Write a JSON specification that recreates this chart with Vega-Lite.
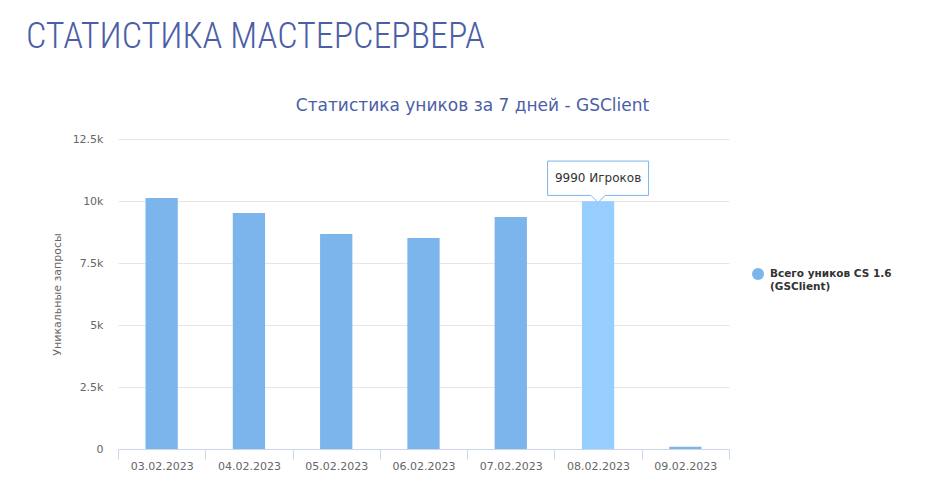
{
  "$schema": "https://vega.github.io/schema/vega-lite/v6.json",
  "width": 611,
  "height": 310,
  "autosize": {"type": "none"},
  "padding": {"left": 118, "top": 139, "right": 209, "bottom": 36},
  "background": "white",
  "title": {
    "text": "СТАТИСТИКА МАСТЕРСЕРВЕРА",
    "anchor": "start",
    "frame": "group",
    "dx": -92,
    "offset": 40,
    "font": "Roboto Condensed, Liberation Sans Narrow, Roboto",
    "fontSize": 36,
    "fontWeight": 300,
    "color": "#4b5ea6"
  },
  "data": {
    "values": [
      {"date": "03.02.2023", "value": 10120, "series": "Всего уников CS 1.6 (GSClient)"},
      {"date": "04.02.2023", "value": 9516, "series": "Всего уников CS 1.6 (GSClient)"},
      {"date": "05.02.2023", "value": 8670, "series": "Всего уников CS 1.6 (GSClient)"},
      {"date": "06.02.2023", "value": 8508, "series": "Всего уников CS 1.6 (GSClient)"},
      {"date": "07.02.2023", "value": 9355, "series": "Всего уников CS 1.6 (GSClient)"},
      {"date": "08.02.2023", "value": 9990, "series": "Всего уников CS 1.6 (GSClient)"},
      {"date": "09.02.2023", "value": 90, "series": "Всего уников CS 1.6 (GSClient)"}
    ]
  },
  "encoding": {
    "y": {
      "field": "value",
      "type": "quantitative",
      "scale": {"domain": [0, 12500], "nice": false},
      "axis": {
        "title": "Уникальные запросы",
        "values": [0, 2500, 5000, 7500, 10000, 12500],
        "labelExpr": "datum.value == 0 ? '0' : format(datum.value / 1000, '~g') + 'k'",
        "domain": false,
        "ticks": false,
        "gridColor": "#e6e6e6",
        "labelColor": "#666666",
        "labelFont": "DejaVu Sans",
        "labelFontSize": 11,
        "labelPadding": 15,
        "titleColor": "#666666",
        "titleFont": "DejaVu Sans",
        "titleFontSize": 11,
        "titleFontWeight": "normal",
        "titlePadding": 10
      }
    }
  },
  "resolve": {"axis": {"x": "independent"}},
  "layer": [
    {
      "mark": {"type": "bar", "width": {"band": 0.37}},
      "encoding": {
        "x": {
          "field": "date",
          "type": "ordinal",
          "scale": {"paddingInner": 0, "paddingOuter": 0},
          "axis": {
            "title": null,
            "labelAngle": 0,
            "domainColor": "#ccd6eb",
            "tickColor": "#ccd6eb",
            "tickSize": 10,
            "tickBand": "extent",
            "labelColor": "#666666",
            "labelFont": "DejaVu Sans",
            "labelFontSize": 11,
            "labelPadding": 1,
            "grid": false
          }
        },
        "color": {
          "field": "series",
          "type": "nominal",
          "scale": {"domain": ["Всего уников CS 1.6 (GSClient)"], "range": ["#7cb5ec"]},
          "condition": {"test": "datum.date === '08.02.2023'", "value": "#95ceff"},
          "legend": {
            "title": null,
            "orient": "none",
            "legendX": 633,
            "legendY": 128,
            "symbolType": "circle",
            "symbolSize": 144,
            "labelFont": "DejaVu Sans",
            "labelFontSize": 10.5,
            "labelFontWeight": "bold",
            "labelColor": "#333333",
            "labelOffset": 5,
            "labelExpr": "['Всего уников CS 1.6', '(GSClient)']"
          }
        }
      }
    },
    {
      "transform": [{"filter": "datum.date === '08.02.2023'"}],
      "mark": {
        "type": "point",
        "shape": "M-1,-0.34H1V0.34H0.14L0,0.48L-0.14,0.34H-1Z",
        "size": 10201,
        "filled": true,
        "fill": "#ffffff",
        "fillOpacity": 0.92,
        "stroke": "#7cb5ec",
        "strokeWidth": 1,
        "yOffset": -23
      },
      "encoding": {
        "x": {
          "field": "date",
          "type": "ordinal",
          "axis": {
            "orient": "top",
            "labels": false,
            "ticks": false,
            "domain": false,
            "grid": false,
            "title": "Статистика уников за 7 дней - GSClient",
            "titleFont": "DejaVu Sans",
            "titleFontSize": 17,
            "titleFontWeight": "normal",
            "titleColor": "#4b5ea6",
            "titleX": 354,
            "titleY": -29,
            "titleAlign": "center",
            "titleBaseline": "alphabetic"
          }
        }
      }
    },
    {
      "transform": [
        {"filter": "datum.date === '08.02.2023'"},
        {"calculate": "datum.value + ' Игроков'", "as": "label"}
      ],
      "mark": {
        "type": "text",
        "font": "DejaVu Sans",
        "fontSize": 12,
        "color": "#333333",
        "baseline": "middle",
        "dy": -23
      },
      "encoding": {
        "x": {"field": "date", "type": "ordinal", "axis": null},
        "text": {"field": "label"}
      }
    }
  ],
  "config": {"view": {"stroke": null}}
}
